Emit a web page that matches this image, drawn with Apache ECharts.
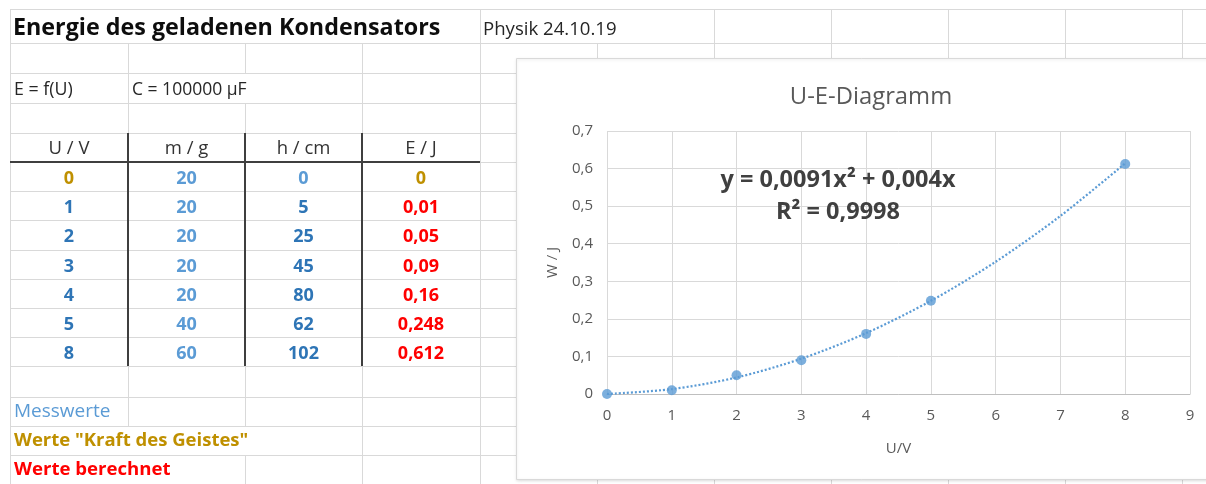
<!DOCTYPE html>
<html>
<head>
<meta charset="utf-8">
<script src="https://cdn.jsdelivr.net/npm/echarts@6/dist/echarts.min.js"></script>
<style>
html,body{margin:0;padding:0;background:#fff;}
#chart{width:1206px;height:484px;}
</style>
</head>
<body>
<div id="chart"></div>
<script>
// ---- data ----
const sheetTitle = 'Energie des geladenen Kondensators';
const sheetDate = 'Physik 24.10.19';
const formulaLabel = 'E = f(U)';
const capacityLabel = 'C = 100000 µF';
const headers = ['U / V', 'm / g', 'h / cm', 'E / J'];
const uValues = [0, 1, 2, 3, 4, 5, 8];
const mValues = [20, 20, 20, 20, 20, 40, 60];
const hValues = [0, 5, 25, 45, 80, 62, 102];
const eValues = [0, 0.01, 0.05, 0.09, 0.16, 0.248, 0.612];
const legendNotes = ['Messwerte', 'Werte "Kraft des Geistes"', 'Werte berechnet'];
const chartTitle = 'U-E-Diagramm';
const xAxisName = 'U/V';
const yAxisName = 'W / J';
const trendX = [0, 1, 2, 3, 4, 5, 6, 7, 8];
const trendY = [0, 0.013, 0.044, 0.094, 0.162, 0.248, 0.352, 0.474, 0.614];
const trendEquation = 'y = 0,0091x² + 0,004x';
const trendR2 = 'R² = 0,9998';

// ---- layout ----
const FONT = 'Open Sans';
const colX = [10, 128, 245, 362, 480, 597, 714, 831, 948, 1065, 1182];
const rowY = [9, 43, 73, 103, 133, 162, 191, 220, 250, 279, 308, 337, 366, 397, 426, 455, 484];
const GOLD = '#bf9000', DBLUE = '#2e75b6', LBLUE = '#5b9bd5', RED = '#ff0000';
const fmt = v => String(v).replace('.', ',');

const g = [];
g.push({type: 'rect', shape: {x: 0, y: 0, width: 1206, height: 484}, style: {fill: '#fff'}, z: 0, silent: true});
// horizontal grid lines
rowY.forEach(y => g.push({type: 'line', shape: {x1: 10, y1: y + 0.5, x2: 1206, y2: y + 0.5}, style: {stroke: '#d9d9d9', lineWidth: 1}, z: 1, silent: true}));
// vertical grid lines (hidden where text overflows)
const hidden = {
  '0': [1, 2, 3, 5],
  '2': [2],
  '14': [1, 2],
  '15': [1]
};
for (let r = 0; r < rowY.length - 1; r++) {
  colX.forEach((x, c) => {
    if (hidden[r] && hidden[r].includes(c)) return;
    g.push({type: 'line', shape: {x1: x + 0.5, y1: rowY[r], x2: x + 0.5, y2: rowY[r + 1]}, style: {stroke: '#d9d9d9', lineWidth: 1}, z: 1, silent: true});
  });
}
// thick table lines
g.push({type: 'line', shape: {x1: 10, y1: 162, x2: 480, y2: 162}, style: {stroke: '#3f3f3f', lineWidth: 2}, z: 1, silent: true});
[128, 245, 362].forEach(x => g.push({type: 'line', shape: {x1: x, y1: 133, x2: x, y2: 366}, style: {stroke: '#3f3f3f', lineWidth: 2}, z: 1, silent: true}));

function txt(text, x, y, opt, z) {
  g.push({
    type: 'text', x: x, y: y, z: z || 3, silent: true,
    style: Object.assign({text: text, fontFamily: FONT, fontSize: 17, fill: '#262626', textAlign: 'left', textVerticalAlign: 'middle'}, opt || {})
  });
}
txt(sheetTitle, 13, 28, {fontSize: 23.3, fontWeight: 'bold', fill: '#0d0d0d'});
txt(sheetDate, 483, 30, {fontSize: 18.6});
txt(formulaLabel, 14, 90, {fontSize: 17.8});
txt(capacityLabel, 132, 90, {fontSize: 17.5});
const colC = [69, 186.5, 303.5, 421];
headers.forEach((h, i) => txt(h, colC[i], 149, {textAlign: 'center', fontSize: 18.5, fill: '#333'}));
uValues.forEach((u, r) => {
  const y = (rowY[5 + r] + rowY[6 + r]) / 2 + 2;
  const o = {textAlign: 'center', fontWeight: 'bold', fontSize: 18};
  txt(String(u), colC[0], y, Object.assign({fill: r === 0 ? GOLD : DBLUE}, o));
  txt(String(mValues[r]), colC[1], y, Object.assign({fill: LBLUE}, o));
  txt(String(hValues[r]), colC[2], y, Object.assign({fill: r === 0 ? LBLUE : DBLUE}, o));
  txt(fmt(eValues[r]), colC[3], y, Object.assign({fill: r === 0 ? GOLD : RED}, o));
});
txt(legendNotes[0], 14, 412, {fill: LBLUE, fontSize: 19});
txt(legendNotes[1], 14, 441, {fill: GOLD, fontWeight: 'bold', fontSize: 18.5});
txt(legendNotes[2], 14, 470, {fill: RED, fontWeight: 'bold', fontSize: 18.6});
// chart box
g.push({type: 'rect', shape: {x: 516.5, y: 58.5, width: 760, height: 421}, style: {fill: '#fff', stroke: '#d9d9d9', lineWidth: 1, shadowBlur: 3, shadowColor: 'rgba(0,0,0,0.12)', shadowOffsetY: 1}, z: 4, silent: true});
// trendline label
txt(trendEquation, 838, 180, {textAlign: 'center', fontSize: 23.5, fontWeight: 'bold', fill: '#404040'}, 30);
txt(trendR2, 838, 212, {textAlign: 'center', fontSize: 23.5, fontWeight: 'bold', fill: '#404040'}, 30);

const chart = echarts.init(document.getElementById('chart'), null, {renderer: 'canvas'});
chart.setOption({
  animation: false,
  backgroundColor: '#fff',
  title: {
    text: chartTitle, left: 866, top: 80, textAlign: 'center', z: 30,
    textStyle: {fontFamily: FONT, fontSize: 23.8, fontWeight: 'normal', color: '#595959'}
  },
  graphic: g,
  grid: {left: 607, right: 16, top: 131, bottom: 90, containLabel: false, z: 5},
  xAxis: {
    type: 'value', min: 0, max: 9, interval: 1, z: 5,
    name: xAxisName, nameLocation: 'middle', nameGap: 47,
    nameTextStyle: {fontFamily: FONT, fontSize: 15, color: '#595959'},
    axisLine: {show: true, lineStyle: {color: '#bfbfbf', width: 1}},
    axisTick: {show: false},
    axisLabel: {fontFamily: FONT, fontSize: 15, color: '#595959', margin: 14},
    splitLine: {show: true, lineStyle: {color: '#d9d9d9', width: 1}}
  },
  yAxis: {
    type: 'value', min: 0, max: 0.7, interval: 0.1, z: 5,
    name: yAxisName, nameLocation: 'middle', nameGap: 47, nameRotate: 90,
    nameTextStyle: {fontFamily: FONT, fontSize: 15, color: '#595959'},
    axisLine: {show: false},
    axisTick: {show: false},
    axisLabel: {fontFamily: FONT, fontSize: 15, color: '#595959', margin: 14,
      formatter: v => fmt(Math.round(v * 10) / 10)},
    splitLine: {show: true, lineStyle: {color: '#d9d9d9', width: 1}}
  },
  series: [
    {
      type: 'line', z: 10, data: trendX.map((x, i) => [x, trendY[i]]),
      smooth: 0.3, showSymbol: false, symbol: 'none',
      lineStyle: {color: LBLUE, width: 2.2, type: [2, 2]}
    },
    {
      type: 'scatter', z: 11, data: uValues.map((u, i) => [u, eValues[i]]),
      symbol: 'circle', symbolSize: 10, itemStyle: {color: LBLUE}
    }
  ]
});
</script>
</body>
</html>
